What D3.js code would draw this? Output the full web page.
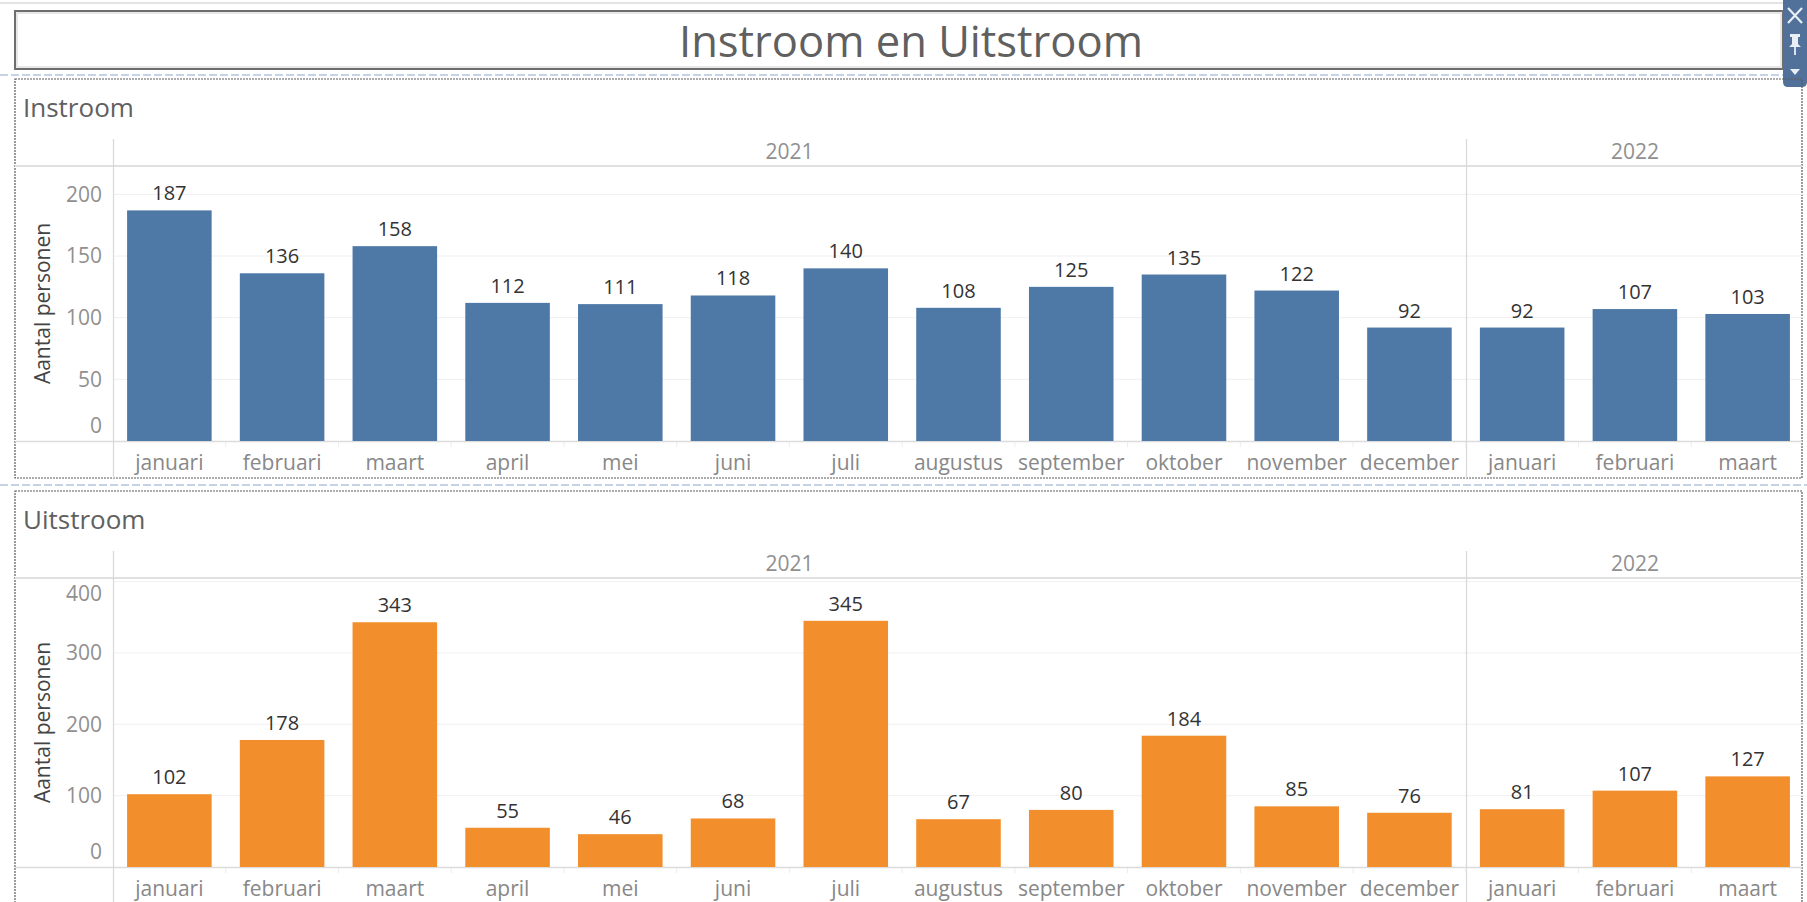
<!DOCTYPE html>
<html>
<head>
<meta charset="utf-8">
<script src="https://cdn.jsdelivr.net/npm/d3@7.9.0/dist/d3.min.js"></script>
<style>
  html, body { margin: 0; padding: 0; background: #fff; }
  svg { display: block; font-family: "Open Sans", sans-serif; }
</style>
</head>
<body>
<svg id="chart"></svg>
<script>
// ---- data ----
const years = ["2021", "2022"];
const months2021 = ["januari", "februari", "maart", "april", "mei", "juni", "juli",
  "augustus", "september", "oktober", "november", "december"];
const months2022 = ["januari", "februari", "maart"];

const instroom2021 = [187, 136, 158, 112, 111, 118, 140, 108, 125, 135, 122, 92];
const instroom2022 = [92, 107, 103];
const uitstroom2021 = [102, 178, 343, 55, 46, 68, 345, 67, 80, 184, 85, 76];
const uitstroom2022 = [81, 107, 127];

const instroomTicks = [0, 50, 100, 150, 200];
const uitstroomTicks = [0, 100, 200, 300, 400];

const width = 1807, height = 902;
const svg = d3.select("#chart").attr("width", width).attr("height", height);

function rows(v2021, v2022) {
  return months2021.map((m, i) => ({ year: "2021", month: m, value: v2021[i] }))
    .concat(months2022.map((m, i) => ({ year: "2022", month: m, value: v2022[i] })));
}
const key = d => d.year + "-" + d.month;

// ---- dashboard chrome ----
svg.append("line").attr("x1", 0).attr("x2", width).attr("y1", 3).attr("y2", 3)
  .attr("stroke", "#e4e4e4").attr("stroke-width", 2);

svg.append("rect").attr("x", 15).attr("y", 11).attr("width", 1768).attr("height", 58)
  .attr("fill", "#fff").attr("stroke", "#6e6e6e").attr("stroke-width", 2);
svg.append("rect").attr("x", 17).attr("y", 13).attr("width", 1764).attr("height", 54)
  .attr("fill", "none").attr("stroke", "#d0d0d0").attr("stroke-width", 1);

svg.append("text").attr("x", 911).attr("y", 42).attr("dy", "0.35em")
  .attr("text-anchor", "middle").attr("font-size", 43.5).attr("font-weight", 500)
  .attr("fill", "#606060")
  .text("Instroom en Uitstroom");

[75, 485].forEach(y => {
  svg.append("line").attr("x1", 0).attr("x2", width).attr("y1", y).attr("y2", y)
    .attr("stroke", "#c6d3e6").attr("stroke-width", 2).attr("stroke-dasharray", "8,3");
});

// toolbar
const tb = svg.append("g").attr("transform", "translate(1783,0)");
tb.append("path").attr("d", "M0,0H24V82Q24,87 19,87H5Q0,87 0,82Z").attr("fill", "#52719a");
tb.append("path").attr("d", "M5,8L19,23M19,8L5,23").attr("stroke", "#e8eef5").attr("stroke-width", 2.2);
tb.append("path").attr("d", "M7,34H17V37H15V44L18,47H6L9,44V37H7Z").attr("fill", "#e8eef5");
tb.append("path").attr("d", "M12,47V55").attr("stroke", "#e8eef5").attr("stroke-width", 1.8);
tb.append("path").attr("d", "M7,69H17L12,75Z").attr("fill", "#e8eef5");

// ---- one panel ----
function drawPanel(cfg) {
  const data = rows(cfg.v2021, cfg.v2022);
  const T = cfg.top;
  const left = 113, right = 1804;
  const headerY = T + 87, plotBottom = cfg.plotBottom;
  const g = svg.append("g");

  g.append("rect").attr("x", 15).attr("y", T).attr("width", 1787).attr("height", cfg.panelHeight)
    .attr("fill", "none").attr("stroke", "#5a5a5a").attr("stroke-width", 1.2)
    .attr("stroke-dasharray", "2,1");

  g.append("text").attr("x", 23).attr("y", T + 29).attr("dy", "0.35em")
    .attr("font-size", 26).attr("fill", "#606060").text(cfg.title);

  const x = d3.scaleBand().domain(data.map(key)).range([left, right])
    .paddingInner(0.25).paddingOuter(0.125);
  const y = d3.scaleLinear().domain([0, cfg.yMax]).range([plotBottom, headerY]);

  // gridlines
  g.selectAll(".grid").data(cfg.ticks.filter(t => t > 0)).enter().append("line")
    .attr("x1", left).attr("x2", right).attr("y1", d => y(d)).attr("y2", d => y(d))
    .attr("stroke", "#f0f0f0").attr("stroke-width", 1);

  // header + baseline rules
  g.append("line").attr("x1", 15).attr("x2", 1802).attr("y1", headerY).attr("y2", headerY)
    .attr("stroke", "#e0e0e0").attr("stroke-width", 2);
  g.append("line").attr("x1", 15).attr("x2", 1802).attr("y1", plotBottom + 0.5).attr("y2", plotBottom + 0.5)
    .attr("stroke", "#dcdcdc").attr("stroke-width", 1.5);

  // year separators
  const firstOf2022 = key(data.find(d => d.year === "2022"));
  const half = x.step() * x.paddingInner() / 2;
  const divider = Math.round(x(firstOf2022) - half) + 0.5;
  [left + 0.5, divider].forEach(xx => {
    g.append("line").attr("x1", xx).attr("x2", xx).attr("y1", T + 60).attr("y2", T + cfg.panelHeight)
      .attr("stroke", "#d8d8d8").attr("stroke-width", 1.2);
  });

  // faint ticks between month slots
  g.selectAll(".sep").data(data.slice(1)).enter().append("line")
    .attr("x1", d => x(key(d)) - half).attr("x2", d => x(key(d)) - half)
    .attr("y1", plotBottom + 1).attr("y2", plotBottom + 6)
    .attr("stroke", "#ececec");

  // year headers
  const yearSpan = years.map(yr => {
    const ks = data.filter(d => d.year === yr).map(key);
    const a = x(ks[0]) - half, b = x(ks[ks.length - 1]) + x.bandwidth() + half;
    return { yr, cx: (a + b) / 2 };
  });
  g.selectAll(".year").data(yearSpan).enter().append("text")
    .attr("x", d => d.cx).attr("y", T + 73).attr("dy", "0.35em")
    .attr("text-anchor", "middle").attr("font-size", 21).attr("fill", "#909090")
    .text(d => d.yr);

  // y axis tick labels (clamped inside pane like Tableau)
  g.selectAll(".ytick").data(cfg.ticks).enter().append("text")
    .attr("x", 102).attr("y", d => Math.min(Math.max(y(d), headerY + 16), plotBottom - 15))
    .attr("dy", "0.35em").attr("text-anchor", "end").attr("font-size", 21).attr("fill", "#909090")
    .text(d => d);

  g.append("text")
    .attr("transform", `translate(43,${(headerY + plotBottom) / 2}) rotate(-90)`)
    .attr("dy", "0.35em").attr("text-anchor", "middle").attr("font-size", 21).attr("fill", "#444")
    .text("Aantal personen");

  // bars
  g.selectAll(".bar").data(data).enter().append("rect")
    .attr("x", d => x(key(d))).attr("width", x.bandwidth())
    .attr("y", d => y(d.value)).attr("height", d => plotBottom - y(d.value))
    .attr("fill", cfg.color);

  g.selectAll(".val").data(data).enter().append("text")
    .attr("x", d => x(key(d)) + x.bandwidth() / 2).attr("y", d => y(d.value) - 10)
    .attr("text-anchor", "middle").attr("font-size", 20).attr("fill", "#333")
    .text(d => d.value);

  g.selectAll(".month").data(data).enter().append("text")
    .attr("x", d => x(key(d)) + x.bandwidth() / 2).attr("y", plotBottom + 22).attr("dy", "0.35em")
    .attr("text-anchor", "middle").attr("font-size", 21).attr("fill", "#888")
    .text(d => d.month);
}

drawPanel({ title: "Instroom", top: 79, panelHeight: 399, plotBottom: 441, yMax: 223,
  ticks: instroomTicks, v2021: instroom2021, v2022: instroom2022, color: "#4e79a7" });
drawPanel({ title: "Uitstroom", top: 491, panelHeight: 420, plotBottom: 867, yMax: 405,
  ticks: uitstroomTicks, v2021: uitstroom2021, v2022: uitstroom2022, color: "#f28e2b" });
</script>
</body>
</html>
